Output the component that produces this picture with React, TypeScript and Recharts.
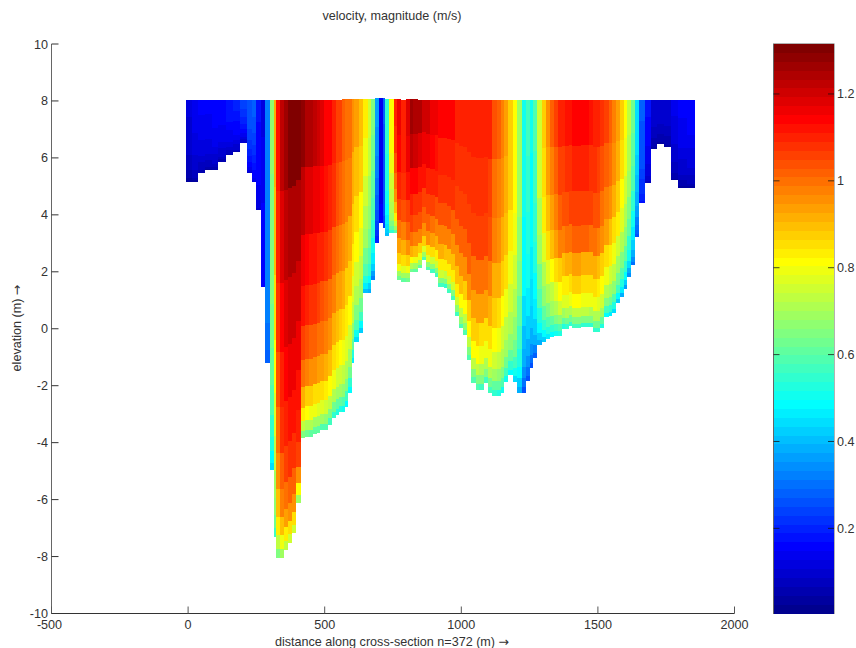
import React from "react";
import { ScatterChart, Scatter, XAxis, YAxis } from "recharts";

const CHART_TITLE = "velocity, magnitude (m/s)";
const X_LABEL = "distance along cross-section n=372 (m) ";
const Y_LABEL = "elevation (m) ";
const ARROW = "→";

const xTicks = [-500, 0, 500, 1000, 1500, 2000];
const yTicks = [-10, -8, -6, -4, -2, 0, 2, 4, 6, 8, 10];
const colorbarTicks = [0.2, 0.4, 0.6, 0.8, 1, 1.2];
const colorMin = 0.004;
const colorMax = 1.315;

// share of the water depth per layer, surface first
const layerShares = [0.2, 0.2, 0.15, 0.12, 0.1, 0.08, 0.06, 0.04, 0.03, 0.02];

const columnEdges = [
  -8, 15, 38, 62, 87, 111, 138, 164, 190, 215,
  233, 250, 266, 281, 299, 313, 322, 337, 351, 364,
  382, 396, 412, 427, 441, 456, 470, 483, 498, 511,
  528, 540, 554, 565, 576, 587, 601, 609, 624, 642,
  657, 670, 683, 697, 712, 721, 737, 752, 766, 781,
  796, 811, 825, 840, 857, 869, 887, 902, 916, 935,
  949, 964, 978, 993, 1008, 1022, 1037, 1052, 1066, 1083,
  1097, 1113, 1130, 1147, 1158, 1172, 1188, 1205, 1221, 1237,
  1250, 1263, 1278, 1295, 1310, 1326, 1340, 1355, 1368, 1380,
  1393, 1407, 1422, 1438, 1452, 1466, 1482, 1497, 1508, 1524,
  1539, 1553, 1567, 1581, 1596, 1607, 1622, 1636, 1651, 1673,
  1695, 1717, 1742, 1768, 1793, 1825, 1856,
];

const bedLevels = [
  5.14, 5.15, 5.46, 5.57, 5.57, 5.84, 6.1, 6.2, 6.51, 5.46,
  5.14, 4.17, 1.48, -1.2, -4.96, -7.31, -8.05, -8.05, -7.77, -7.53,
  -7.18, -6.12, -3.84, -3.79, -3.79, -3.7, -3.66, -3.56, -3.56, -3.38,
  -3.14, -3.03, -2.93, -2.93, -2.74, -2.26, -1.2, -0.46, -0.15, 1.25,
  1.25, 1.71, 3.01, 3.71, 3.54, 3.26, 3.36, 3.36, 1.71, 1.64,
  1.64, 1.99, 1.99, 2.13, 2.41, 2.06, 1.96, 1.82, 1.46, 1.43,
  1.25, 1.01, 0.45, 0.02, -0.22, -1.1, -1.91, -2.15, -2.15, -1.91,
  -2.26, -2.36, -2.36, -2.26, -1.87, -1.63, -1.87, -2.26, -2.26, -1.84,
  -1.38, -1.03, -0.57, -0.47, -0.36, -0.29, -0.26, -0.26, -0.01, -0.01,
  0.09, 0.02, 0.02, 0.06, 0.06, 0.06, -0.12, -0.12, 0.02, 0.41,
  0.45, 0.55, 0.9, 1.11, 1.39, 1.82, 2.24, 3.22, 4.42, 5.12,
  6.31, 6.49, 6.38, 5.22, 4.94, 4.94,
];

const waterLevels = [
  8.03, 8.03, 8.03, 8.03, 8.03, 8.03, 8.03, 8.03, 8.03, 8.03,
  8.03, 8.03, 8.03, 8.03, 8.03, 8.03, 8.05, 8.05, 8.05, 8.05,
  8.05, 8.05, 8.05, 8.05, 8.05, 8.05, 8.05, 8.05, 8.05, 8.05,
  8.05, 8.05, 8.05, 8.08, 8.08, 8.08, 8.08, 8.08, 8.08, 8.08,
  8.08, 8.08, 8.1, 8.1, 8.1, 8.06, 8.06, 8.06, 8.06, 8.05,
  8.06, 8.06, 8.06, 8.05, 8.03, 8.03, 8.03, 8.03, 8.03, 8.03,
  8.03, 8.03, 8.03, 8.03, 8.03, 8.03, 8.03, 8.03, 8.03, 8.03,
  8.03, 8.03, 8.03, 8.05, 8.05, 8.05, 8.05, 8.05, 8.05, 8.05,
  8.05, 8.05, 8.05, 8.05, 8.05, 8.05, 8.05, 8.03, 8.03, 8.03,
  8.03, 8.03, 8.03, 8.03, 8.03, 8.03, 8.03, 8.03, 8.03, 8.03,
  8.03, 8.03, 8.03, 8.03, 8.03, 8.03, 8.03, 8.03, 8.03, 8.03,
  8.03, 8.03, 8.03, 8.03, 8.03, 8.03,
];

// one row per column, one value per layer, surface first (m/s)
const velocityProfiles = [
  [0.11, 0.1, 0.09, 0.09, 0.08, 0.07, 0.06, 0.05, 0.04, 0.03],
  [0.14, 0.13, 0.12, 0.11, 0.1, 0.09, 0.08, 0.07, 0.05, 0.04],
  [0.15, 0.14, 0.13, 0.12, 0.11, 0.09, 0.08, 0.07, 0.06, 0.05],
  [0.15, 0.14, 0.13, 0.12, 0.11, 0.1, 0.08, 0.07, 0.06, 0.04],
  [0.16, 0.15, 0.14, 0.13, 0.11, 0.1, 0.09, 0.07, 0.06, 0.05],
  [0.16, 0.15, 0.14, 0.13, 0.12, 0.1, 0.09, 0.08, 0.06, 0.05],
  [0.18, 0.17, 0.16, 0.14, 0.13, 0.11, 0.1, 0.08, 0.07, 0.06],
  [0.19, 0.18, 0.16, 0.15, 0.13, 0.12, 0.1, 0.09, 0.07, 0.06],
  [0.24, 0.22, 0.2, 0.18, 0.16, 0.14, 0.12, 0.1, 0.09, 0.07],
  [0.27, 0.25, 0.23, 0.21, 0.19, 0.17, 0.15, 0.13, 0.11, 0.09],
  [0.28, 0.26, 0.24, 0.22, 0.2, 0.18, 0.16, 0.15, 0.13, 0.11],
  [0.17, 0.16, 0.16, 0.15, 0.15, 0.14, 0.13, 0.12, 0.11, 0.1],
  [0.12, 0.13, 0.14, 0.15, 0.15, 0.16, 0.16, 0.16, 0.15, 0.15],
  [0.33, 0.33, 0.33, 0.32, 0.32, 0.32, 0.31, 0.3, 0.29, 0.28],
  [0.66, 0.65, 0.64, 0.62, 0.6, 0.58, 0.55, 0.52, 0.49, 0.45],
  [0.92, 0.9, 0.86, 0.82, 0.78, 0.74, 0.7, 0.66, 0.62, 0.56],
  [1.12, 1.1, 1.07, 1.04, 1.0, 0.96, 0.9, 0.84, 0.74, 0.64],
  [1.23, 1.19, 1.15, 1.11, 1.07, 1.02, 0.97, 0.9, 0.8, 0.7],
  [1.27, 1.23, 1.19, 1.15, 1.11, 1.06, 1.0, 0.93, 0.83, 0.73],
  [1.3, 1.25, 1.21, 1.17, 1.13, 1.08, 1.02, 0.95, 0.85, 0.75],
  [1.3, 1.25, 1.21, 1.17, 1.13, 1.08, 1.02, 0.95, 0.85, 0.75],
  [1.3, 1.25, 1.21, 1.17, 1.13, 1.09, 1.05, 0.95, 0.82, 0.68],
  [1.29, 1.22, 1.17, 1.12, 1.06, 1.0, 0.92, 0.84, 0.74, 0.64],
  [1.25, 1.19, 1.14, 1.09, 1.03, 0.97, 0.88, 0.81, 0.72, 0.62],
  [1.24, 1.18, 1.13, 1.08, 1.02, 0.96, 0.87, 0.8, 0.71, 0.61],
  [1.22, 1.17, 1.12, 1.07, 1.01, 0.95, 0.86, 0.79, 0.7, 0.6],
  [1.21, 1.16, 1.11, 1.06, 1.0, 0.94, 0.85, 0.78, 0.69, 0.6],
  [1.18, 1.14, 1.09, 1.04, 0.99, 0.93, 0.85, 0.77, 0.68, 0.59],
  [1.15, 1.12, 1.07, 1.02, 0.97, 0.91, 0.83, 0.75, 0.66, 0.58],
  [1.14, 1.1, 1.05, 1.0, 0.95, 0.89, 0.81, 0.74, 0.65, 0.57],
  [1.1, 1.07, 1.02, 0.97, 0.92, 0.86, 0.79, 0.72, 0.63, 0.55],
  [1.06, 1.03, 0.99, 0.94, 0.89, 0.83, 0.76, 0.69, 0.61, 0.53],
  [1.05, 1.02, 0.97, 0.93, 0.88, 0.82, 0.75, 0.68, 0.6, 0.52],
  [1.02, 0.99, 0.95, 0.91, 0.85, 0.8, 0.73, 0.66, 0.58, 0.5],
  [1.0, 0.97, 0.93, 0.88, 0.83, 0.77, 0.71, 0.64, 0.56, 0.49],
  [1.0, 0.97, 0.92, 0.87, 0.81, 0.76, 0.7, 0.62, 0.55, 0.48],
  [0.95, 0.92, 0.87, 0.83, 0.78, 0.73, 0.67, 0.6, 0.53, 0.46],
  [0.93, 0.9, 0.85, 0.81, 0.76, 0.71, 0.65, 0.58, 0.51, 0.44],
  [0.9, 0.87, 0.82, 0.78, 0.73, 0.68, 0.63, 0.56, 0.49, 0.42],
  [0.83, 0.8, 0.76, 0.72, 0.68, 0.63, 0.58, 0.52, 0.46, 0.4],
  [0.75, 0.73, 0.69, 0.66, 0.62, 0.58, 0.54, 0.49, 0.43, 0.38],
  [0.65, 0.63, 0.6, 0.58, 0.54, 0.5, 0.47, 0.42, 0.37, 0.33],
  [0.36, 0.34, 0.32, 0.3, 0.28, 0.26, 0.24, 0.22, 0.2, 0.19],
  [0.14, 0.14, 0.14, 0.14, 0.14, 0.14, 0.15, 0.15, 0.15, 0.16],
  [0.28, 0.27, 0.27, 0.26, 0.26, 0.25, 0.25, 0.24, 0.24, 0.24],
  [0.55, 0.54, 0.53, 0.52, 0.5, 0.49, 0.47, 0.45, 0.42, 0.4],
  [0.82, 0.81, 0.79, 0.76, 0.74, 0.71, 0.68, 0.64, 0.6, 0.55],
  [1.1, 1.08, 1.04, 1.0, 0.96, 0.9, 0.84, 0.76, 0.68, 0.6],
  [1.16, 1.14, 1.1, 1.05, 1.0, 0.94, 0.87, 0.8, 0.7, 0.62],
  [1.1, 1.09, 1.07, 1.03, 0.98, 0.92, 0.86, 0.78, 0.69, 0.61],
  [1.19, 1.17, 1.12, 1.06, 1.01, 0.95, 0.88, 0.8, 0.7, 0.62],
  [1.26, 1.22, 1.15, 1.09, 1.05, 0.99, 0.91, 0.82, 0.72, 0.62],
  [1.25, 1.21, 1.14, 1.08, 1.04, 0.98, 0.9, 0.8, 0.7, 0.61],
  [1.24, 1.19, 1.13, 1.07, 1.03, 0.97, 0.88, 0.79, 0.69, 0.6],
  [1.21, 1.17, 1.12, 1.06, 1.02, 0.96, 0.87, 0.78, 0.68, 0.59],
  [1.2, 1.16, 1.11, 1.05, 1.01, 0.95, 0.86, 0.77, 0.67, 0.58],
  [1.17, 1.14, 1.1, 1.05, 1.0, 0.93, 0.85, 0.76, 0.66, 0.57],
  [1.16, 1.13, 1.09, 1.04, 0.98, 0.92, 0.84, 0.75, 0.65, 0.56],
  [1.14, 1.11, 1.08, 1.04, 0.98, 0.91, 0.84, 0.75, 0.65, 0.56],
  [1.14, 1.11, 1.07, 1.03, 0.97, 0.9, 0.83, 0.74, 0.64, 0.55],
  [1.14, 1.1, 1.07, 1.03, 0.97, 0.9, 0.83, 0.75, 0.65, 0.56],
  [1.14, 1.1, 1.07, 1.02, 0.96, 0.89, 0.83, 0.75, 0.65, 0.57],
  [1.11, 1.08, 1.06, 1.02, 0.96, 0.89, 0.83, 0.75, 0.66, 0.57],
  [1.11, 1.08, 1.06, 1.01, 0.96, 0.89, 0.82, 0.74, 0.66, 0.58],
  [1.11, 1.08, 1.06, 1.01, 0.95, 0.88, 0.82, 0.74, 0.66, 0.58],
  [1.11, 1.08, 1.06, 1.01, 0.95, 0.88, 0.82, 0.74, 0.65, 0.58],
  [1.11, 1.08, 1.06, 1.0, 0.94, 0.87, 0.81, 0.73, 0.65, 0.58],
  [1.11, 1.08, 1.06, 1.0, 0.94, 0.87, 0.81, 0.73, 0.65, 0.58],
  [1.11, 1.07, 1.05, 0.99, 0.93, 0.86, 0.8, 0.72, 0.64, 0.57],
  [1.11, 1.07, 1.05, 0.99, 0.93, 0.86, 0.8, 0.72, 0.64, 0.57],
  [1.09, 1.05, 1.03, 0.98, 0.92, 0.85, 0.79, 0.71, 0.63, 0.56],
  [1.03, 1.0, 0.97, 0.92, 0.87, 0.81, 0.75, 0.68, 0.61, 0.54],
  [1.01, 0.98, 0.95, 0.91, 0.85, 0.79, 0.74, 0.67, 0.6, 0.53],
  [0.97, 0.95, 0.91, 0.87, 0.82, 0.76, 0.71, 0.65, 0.58, 0.51],
  [0.94, 0.92, 0.89, 0.85, 0.8, 0.74, 0.69, 0.63, 0.56, 0.5],
  [0.88, 0.87, 0.84, 0.8, 0.76, 0.71, 0.66, 0.6, 0.54, 0.48],
  [0.82, 0.81, 0.79, 0.75, 0.71, 0.67, 0.62, 0.56, 0.5, 0.44],
  [0.7, 0.69, 0.67, 0.64, 0.6, 0.57, 0.53, 0.48, 0.43, 0.38],
  [0.5, 0.5, 0.49, 0.48, 0.44, 0.41, 0.38, 0.34, 0.3, 0.27],
  [0.56, 0.55, 0.53, 0.5, 0.47, 0.43, 0.39, 0.35, 0.31, 0.27],
  [0.5, 0.49, 0.48, 0.47, 0.45, 0.42, 0.38, 0.34, 0.3, 0.26],
  [0.58, 0.57, 0.55, 0.52, 0.49, 0.46, 0.42, 0.38, 0.33, 0.29],
  [0.76, 0.75, 0.72, 0.68, 0.63, 0.58, 0.53, 0.48, 0.43, 0.38],
  [0.88, 0.86, 0.83, 0.78, 0.72, 0.66, 0.6, 0.54, 0.48, 0.43],
  [0.96, 0.94, 0.9, 0.85, 0.78, 0.71, 0.64, 0.58, 0.52, 0.46],
  [1.01, 0.98, 0.94, 0.89, 0.82, 0.74, 0.68, 0.61, 0.54, 0.48],
  [1.05, 1.01, 0.98, 0.93, 0.85, 0.77, 0.71, 0.64, 0.56, 0.5],
  [1.1, 1.05, 1.02, 0.97, 0.88, 0.81, 0.75, 0.67, 0.59, 0.52],
  [1.11, 1.06, 1.03, 0.98, 0.9, 0.83, 0.77, 0.7, 0.61, 0.53],
  [1.12, 1.07, 1.04, 0.99, 0.91, 0.84, 0.78, 0.71, 0.62, 0.54],
  [1.13, 1.08, 1.05, 1.0, 0.92, 0.85, 0.79, 0.72, 0.63, 0.55],
  [1.14, 1.09, 1.06, 1.02, 0.93, 0.87, 0.81, 0.74, 0.65, 0.56],
  [1.14, 1.09, 1.06, 1.02, 0.93, 0.87, 0.81, 0.74, 0.65, 0.56],
  [1.14, 1.09, 1.06, 1.01, 0.92, 0.86, 0.8, 0.73, 0.64, 0.55],
  [1.14, 1.09, 1.05, 1.01, 0.92, 0.86, 0.8, 0.73, 0.64, 0.55],
  [1.13, 1.08, 1.05, 1.0, 0.92, 0.86, 0.8, 0.72, 0.64, 0.55],
  [1.11, 1.07, 1.03, 0.99, 0.91, 0.85, 0.79, 0.72, 0.63, 0.54],
  [1.11, 1.06, 1.03, 0.98, 0.9, 0.84, 0.78, 0.71, 0.63, 0.54],
  [1.07, 1.03, 1.0, 0.95, 0.88, 0.81, 0.75, 0.68, 0.6, 0.52],
  [1.05, 1.02, 0.98, 0.93, 0.86, 0.79, 0.72, 0.65, 0.57, 0.49],
  [1.02, 0.99, 0.96, 0.9, 0.83, 0.76, 0.69, 0.62, 0.55, 0.47],
  [0.98, 0.96, 0.92, 0.86, 0.8, 0.73, 0.66, 0.59, 0.52, 0.45],
  [0.94, 0.92, 0.88, 0.83, 0.76, 0.69, 0.63, 0.56, 0.49, 0.42],
  [0.88, 0.86, 0.82, 0.77, 0.71, 0.65, 0.59, 0.52, 0.46, 0.39],
  [0.81, 0.79, 0.75, 0.71, 0.66, 0.6, 0.54, 0.48, 0.42, 0.36],
  [0.74, 0.72, 0.69, 0.65, 0.6, 0.55, 0.5, 0.44, 0.39, 0.34],
  [0.62, 0.6, 0.58, 0.55, 0.51, 0.47, 0.43, 0.38, 0.34, 0.3],
  [0.45, 0.44, 0.42, 0.4, 0.38, 0.36, 0.33, 0.3, 0.28, 0.25],
  [0.28, 0.27, 0.26, 0.25, 0.24, 0.22, 0.21, 0.2, 0.19, 0.18],
  [0.17, 0.16, 0.15, 0.14, 0.13, 0.12, 0.11, 0.1, 0.09, 0.08],
  [0.1, 0.1, 0.09, 0.08, 0.07, 0.06, 0.06, 0.05, 0.04, 0.04],
  [0.1, 0.09, 0.09, 0.08, 0.07, 0.06, 0.05, 0.05, 0.04, 0.03],
  [0.1, 0.09, 0.09, 0.08, 0.07, 0.06, 0.05, 0.05, 0.04, 0.03],
  [0.13, 0.12, 0.11, 0.1, 0.09, 0.08, 0.07, 0.06, 0.05, 0.04],
  [0.15, 0.14, 0.13, 0.11, 0.1, 0.09, 0.08, 0.06, 0.05, 0.03],
  [0.16, 0.15, 0.13, 0.12, 0.11, 0.09, 0.08, 0.07, 0.05, 0.03],
];

const WIDTH = 856;
const HEIGHT = 648;
const PLOT = { left: 51.5, right: 734.5, top: 44, bottom: 613.5 };
const BAR = { left: 773.5, right: 834 };
const M_PX = (PLOT.right - PLOT.left) / 2500;
const Z_PX = (PLOT.bottom - PLOT.top) / 20;
const TEXT = "#333";
const FONT = "'Liberation Sans', Arial, sans-serif";
const FONT_SIZE = 12.6;

const LEVELS = 64;

// matlab jet with 64 steps
const jet = (v: number) => {
  const i = Math.min(LEVELS - 1, Math.max(0, Math.floor(((v - colorMin) / (colorMax - colorMin)) * LEVELS)));
  const t = (i + 1) / LEVELS;
  const ch = (a: number) => Math.round(255 * Math.max(0, Math.min(1, a)));
  return `rgb(${ch(Math.min(4 * t - 1.5, -4 * t + 4.5))},${ch(Math.min(4 * t - 0.5, -4 * t + 3.5))},${ch(Math.min(4 * t + 0.5, -4 * t + 2.5))})`;
};

const cells = velocityProfiles.flatMap((profile, c) => {
  const depth = waterLevels[c] - bedLevels[c];
  let top = waterLevels[c];
  return profile.map((v, l) => {
    const bottom = top - layerShares[l] * depth;
    const cell = {
      x: (columnEdges[c] + columnEdges[c + 1]) / 2,
      y: (top + bottom) / 2,
      w: columnEdges[c + 1] - columnEdges[c],
      h: top - bottom,
      v,
    };
    top = bottom;
    return cell;
  });
});

const colorbarStep = (colorMax - colorMin) / LEVELS;
const colorbarCells = Array.from({ length: LEVELS }, (_, i) => ({
  x: 0.5,
  y: colorMin + (i + 0.5) * colorbarStep,
  v: colorMin + (i + 0.5) * colorbarStep,
}));

const CellShape = (props: any) => {
  const { cx, cy, payload } = props;
  const w = payload.w * M_PX;
  const h = payload.h * Z_PX;
  return <rect x={cx - w / 2} y={cy - h / 2} width={w} height={h} fill={jet(payload.v)} shapeRendering="crispEdges" />;
};

const BarCell = (props: any) => {
  const { cy, payload } = props;
  const h = (PLOT.bottom - PLOT.top) / LEVELS;
  return <rect x={BAR.left} y={cy - h / 2} width={BAR.right - BAR.left} height={h} fill={jet(payload.v)} shapeRendering="crispEdges" />;
};

const XTick = ({ x, y, payload }: any) => (
  <g>
    <line x1={x} x2={x} y1={y} y2={y - 7} stroke="#555" />
    <text x={x - (payload.value === -500 ? 2 : 0)} y={y + 15.5} textAnchor="middle" fontSize={FONT_SIZE} fontFamily={FONT} fill={TEXT}>
      {payload.value}
    </text>
  </g>
);

const YTick = ({ y, payload }: any) => (
  <g>
    <line x1={PLOT.left} x2={PLOT.left + 7} y1={y} y2={y} stroke="#333" />
    <text x={PLOT.left - 3.5} y={y + 4.5} textAnchor="end" fontSize={FONT_SIZE} fontFamily={FONT} fill={TEXT}>
      {payload.value}
    </text>
  </g>
);

const BarTick = ({ y, payload }: any) => (
  <g>
    <line x1={BAR.left} x2={BAR.left + 6} y1={y} y2={y} stroke="#111" opacity={0.75} />
    <line x1={BAR.right - 6} x2={BAR.right} y1={y} y2={y} stroke="#111" opacity={0.75} />
    <text x={BAR.right + 3} y={y + 4.5} textAnchor="start" fontSize={FONT_SIZE} fontFamily={FONT} fill={TEXT}>
      {payload.value}
    </text>
  </g>
);

export default function App() {
  return (
    <div style={{ position: "absolute", left: 0, top: 0, width: WIDTH, height: HEIGHT, background: "#fff", overflow: "hidden" }}>
      <div style={{ position: "absolute", left: 0, top: 0 }}>
        <ScatterChart
          width={WIDTH}
          height={HEIGHT}
          margin={{ top: PLOT.top, right: WIDTH - PLOT.right, bottom: 0, left: 0 }}
        >
          <XAxis
            type="number"
            dataKey="x"
            domain={[-500, 2000]}
            ticks={xTicks}
            interval={0}
            height={HEIGHT - PLOT.bottom}
            tickLine={false}
            tickSize={0}
            tickMargin={0}
            tick={XTick}
            axisLine={{ stroke: "#333" }}
          />
          <YAxis
            type="number"
            dataKey="y"
            domain={[-10, 10]}
            ticks={yTicks}
            interval={0}
            width={PLOT.left}
            tickLine={false}
            tickSize={0}
            tickMargin={0}
            tick={YTick}
            axisLine={{ stroke: "#666" }}
          />
          <Scatter data={cells} shape={CellShape} isAnimationActive={false} />
          <text x={392} y={19.5} textAnchor="middle" fontSize={FONT_SIZE} fontFamily={FONT} fill={TEXT}>
            {CHART_TITLE}
          </text>
          <text x={392} y={645.5} textAnchor="middle" fontSize={FONT_SIZE} fontFamily={FONT} fill={TEXT}>
            {X_LABEL}
            <tspan fontFamily="'DejaVu Sans'">{ARROW}</tspan>
          </text>
          <text
            x={20.5}
            y={328}
            textAnchor="middle"
            fontSize={FONT_SIZE}
            fontFamily={FONT}
            fill={TEXT}
            transform="rotate(-90 20.5 328)"
          >
            {Y_LABEL}
            <tspan fontFamily="'DejaVu Sans'">{ARROW}</tspan>
          </text>
        </ScatterChart>
      </div>
      <div style={{ position: "absolute", left: 0, top: 0 }}>
        <ScatterChart
          width={WIDTH}
          height={HEIGHT}
          margin={{ top: PLOT.top, right: 0, bottom: HEIGHT - PLOT.bottom, left: BAR.left }}
        >
          <XAxis type="number" dataKey="x" domain={[0, 1]} hide height={0} />
          <YAxis
            type="number"
            dataKey="y"
            orientation="right"
            domain={[colorMin, colorMax]}
            ticks={colorbarTicks}
            interval={0}
            width={WIDTH - BAR.right}
            tickLine={false}
            tickSize={0}
            tickMargin={0}
            tick={BarTick}
            axisLine={false}
          />
          <Scatter data={colorbarCells} shape={BarCell} isAnimationActive={false} />
          <rect x={BAR.left} y={PLOT.top} width={BAR.right - BAR.left} height={PLOT.bottom - PLOT.top} fill="none" stroke="#666" />
        </ScatterChart>
      </div>
    </div>
  );
}
